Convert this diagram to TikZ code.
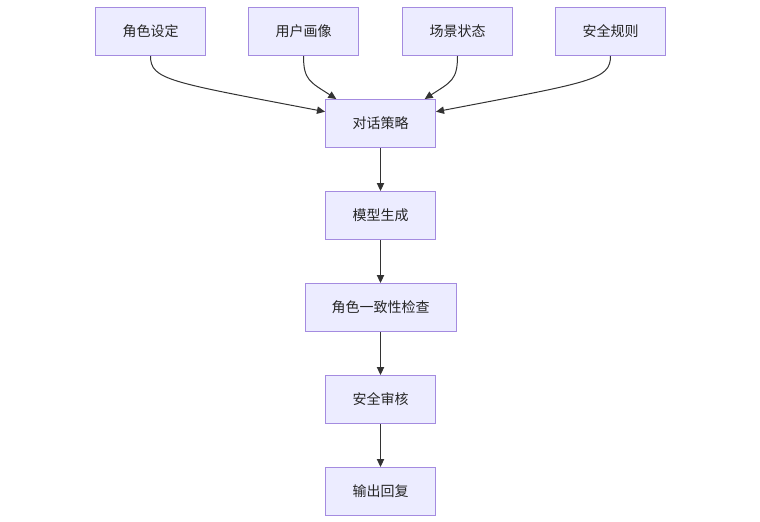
\documentclass[tikz,border=0pt]{standalone}
\usepackage{fontspec}
\setmainfont{Noto Sans CJK SC}
\usetikzlibrary{arrows.meta}
\definecolor{boxfill}{HTML}{ECECFF}
\definecolor{boxline}{HTML}{A48BE0}
\definecolor{edge}{HTML}{333333}
\begin{document}
\begin{tikzpicture}[x=0.75pt,y=-0.75pt,
  box/.style={draw=boxline,fill=boxfill,line width=0.75pt,minimum width=82.5pt,minimum height=36pt,inner sep=0pt,font=\fontsize{10.5pt}{12pt}\selectfont,text=black!85},
  conn/.style={draw=edge,line width=0.75pt,-{Triangle[length=6pt,width=5.5pt]}}]
\useasboundingbox (0,0) rectangle (760,521);
\node[box] (a1) at (150.5,31.5) {角色设定};
\node[box] (a2) at (303.5,31.5) {用户画像};
\node[box] (a3) at (457.5,31.5) {场景状态};
\node[box] (a4) at (610.5,31.5) {安全规则};
\node[box] (b) at (380.5,123.5) {对话策略};
\node[box] (c) at (380.5,215.5) {模型生成};
\node[box,minimum width=113.25pt] (d) at (380.5,307.5) {角色一致性检查};
\node[box] (e) at (380.5,399.5) {安全审核};
\node[box] (f) at (380.5,491.5) {输出回复};
\draw[conn] (a1.south) .. controls (150.5,80) and (170,82) .. (b.168);
\draw[conn] (a2.south) .. controls (303.5,80) and (310,82) .. (b.151);
\draw[conn] (a3.south) .. controls (457.5,80) and (451,82) .. (b.29);
\draw[conn] (a4.south) .. controls (610.5,80) and (591,82) .. (b.12);
\draw[conn] (b) -- (c);
\draw[conn] (c) -- (d);
\draw[conn] (d) -- (e);
\draw[conn] (e) -- (f);
\end{tikzpicture}
\end{document}
